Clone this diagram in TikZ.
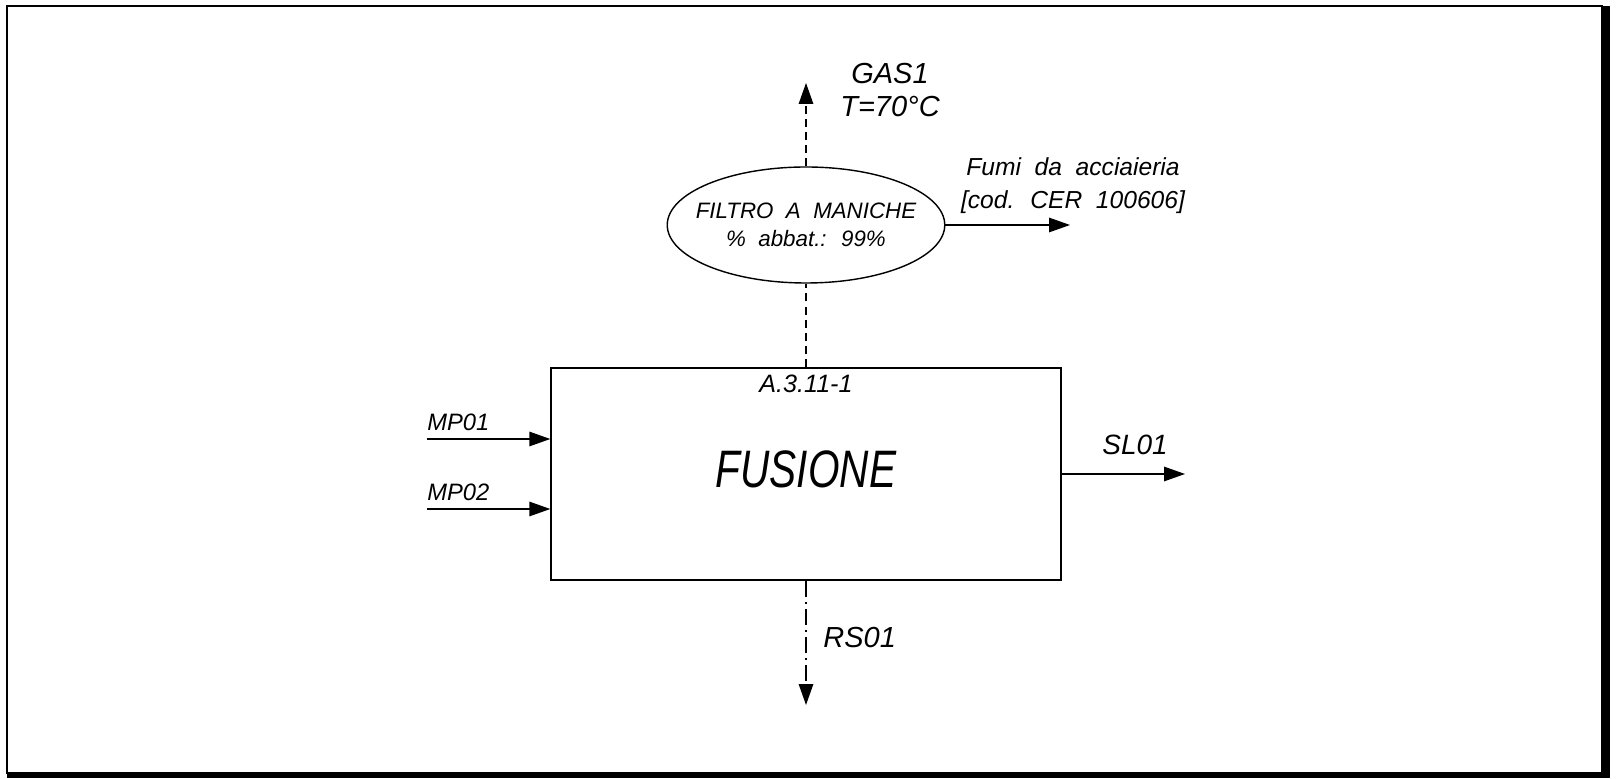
\documentclass[tikz,border=0pt]{standalone}
\usepackage{fontspec}
\setmainfont[WordSpace=2]{Liberation Sans}
\newfontfamily\fusfont[FakeStretch=0.77]{Liberation Sans}
\usetikzlibrary{arrows.meta,positioning,shapes.geometric}

\tikzset{
  flow/.style={line width=0.8pt, -{Triangle[length=4.2mm,width=2.9mm]}},
  gasline/.style={line width=0.8pt, dash pattern=on 4.5pt off 3pt},
  resline/.style={line width=0.8pt, dash pattern=on 9pt off 3pt on 1pt off 3pt},
  tag/.style={inner sep=0pt, font=\itshape\fontsize{#1}{#1}\selectfont},
}

\begin{document}
\begin{tikzpicture}
  \useasboundingbox (0,0) rectangle (32.34,15.56);

  % cornice con ombra a destra e in basso
  \draw[line width=1pt] (0.14,0.1) rectangle (32.04,15.44);
  \fill (32.02,0) rectangle (32.19,15.44);
  \fill (0.14,0) rectangle (32.19,0.12);

  % blocco principale
  \node[draw, line width=0.8pt, minimum width=10.2cm, minimum height=4.24cm,
        text depth=0.2cm, font=\fusfont\itshape\fontsize{30}{36}\selectfont]
        (fus) at (16.12,6.08) {FUSIONE};
  \node[tag=14.3pt, below=1.4mm of fus.north] (code) {A.3.11-1};

  % filtro
  \node[ellipse, draw, line width=0.8pt, minimum width=5.55cm, minimum height=2.32cm,
        inner sep=0pt] (filtro) at (16.12,11.06) {};
  \node[align=center, inner sep=0pt, font=\itshape\fontsize{12.7}{15.9}\selectfont]
        (filtrot) at (filtro.center) {FILTRO A MANICHE\\\% abbat.: 99\%};

  % ingressi
  \coordinate (mp1) at (8.54,6.78);
  \coordinate (mp2) at (8.54,5.38);
  \draw[flow] (mp1) -- (mp1 -| fus.west);
  \draw[flow] (mp2) -- (mp2 -| fus.west);
  \node[tag=13.5pt, above right=1.6mm and 0mm of mp1] (mp1t) {MP01};
  \node[tag=13.5pt, above right=1.6mm and 0mm of mp2] (mp2t) {MP02};

  % uscite
  \coordinate (sl1) at (23.70,6.08);
  \draw[flow] (fus.east |- sl1) -- (sl1);
  \node[tag=15.9pt, above left=3.8mm and 3.4mm of sl1] (sl1t) {SL01};

  \coordinate (rs1) at (16.12,1.46);
  \draw[resline, -{Triangle[length=4.2mm,width=2.9mm]}] (fus.south) -- (rs1);
  \node[tag=16.5pt, above right=11.4mm and 3.4mm of rs1] (rs1t) {RS01};

  % emissioni
  \coordinate (gas) at (16.12,13.9);
  \draw[gasline] (fus.north) -- (filtro.south);
  \draw[gasline, -{Triangle[length=4.2mm,width=2.9mm]}] (filtro.north) -- (gas);
  \node[align=center, inner sep=0pt, font=\itshape\fontsize{16.5}{18.8}\selectfont]
        (gast) at (17.80,13.76) {GAS1\\T=70°C};

  \coordinate (fumi) at (21.40,11.06);
  \draw[flow] (filtro.east) -- (fumi);
  \node[align=center, inner sep=0pt, font=\itshape\fontsize{14}{18.8}\selectfont]
        (fumit) at (21.46,11.84) {Fumi da acciaieria\\{[}cod. CER 100606{]}};
\end{tikzpicture}
\end{document}
